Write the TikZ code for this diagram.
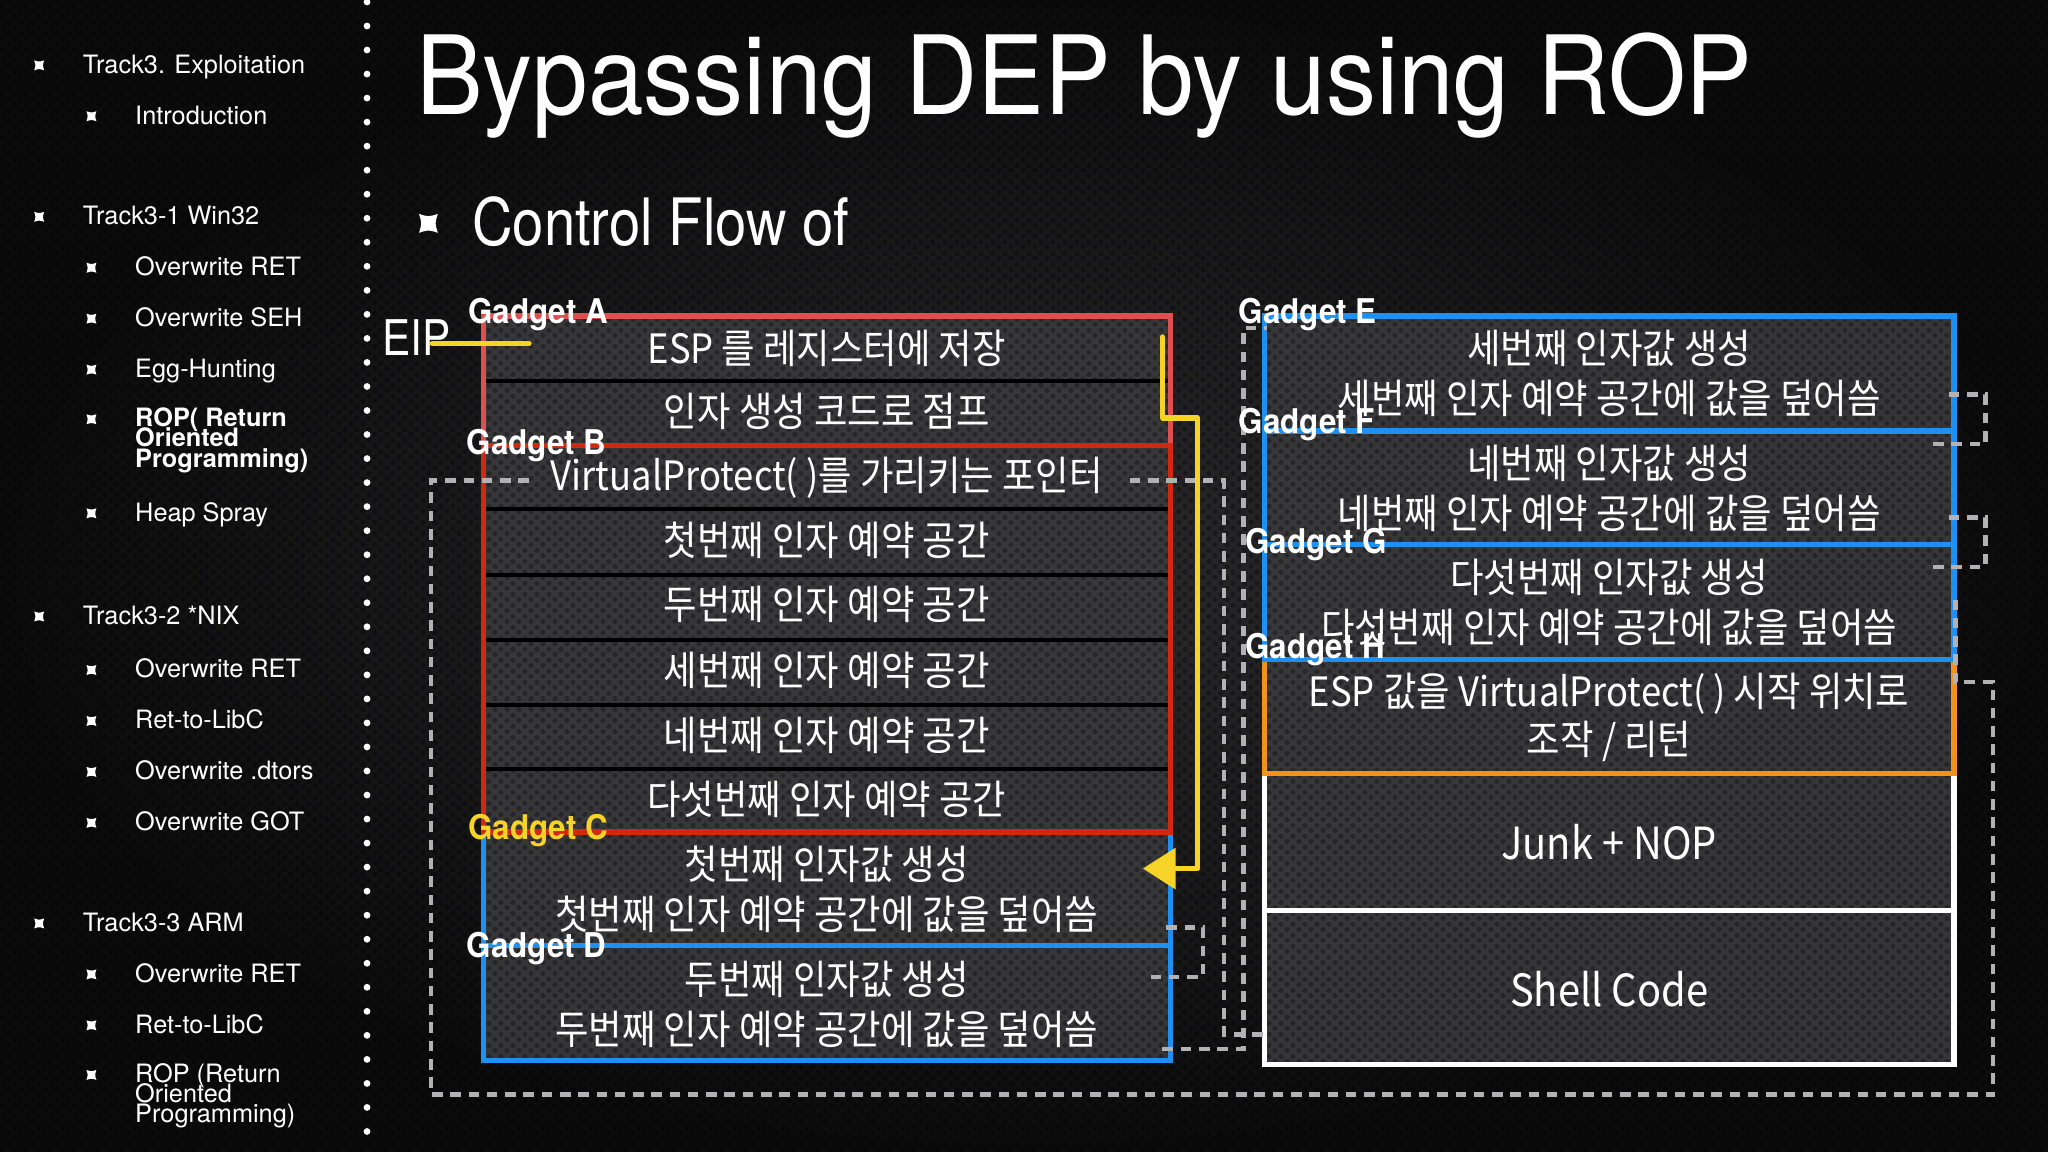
\documentclass[tikz,border=0pt]{standalone}
\usepackage{fontspec}
\setmainfont{TeX Gyre Heros}
\newfontfamily\hvside{TeX Gyre Heros}
\newfontfamily\hvtitle{TeX Gyre Heros}[FakeStretch=0.915]
\newfontfamily\hvcond{TeX Gyre Heros}[FakeStretch=0.86]
\newfontfamily\hvgad{TeX Gyre Heros}[FakeStretch=0.92]
\newfontfamily\krf{Noto Sans CJK KR}[FakeStretch=0.9]
\newcommand\tightls{\lineskiplimit=-20pt\relax\lineskip=0pt\relax}
\usetikzlibrary{arrows.meta,patterns}
\definecolor{redA}{HTML}{E04F4F}
\definecolor{redB}{HTML}{D2280F}
\definecolor{blueG}{HTML}{1E90F2}
\definecolor{orangeG}{HTML}{F2911B}
\definecolor{yel}{HTML}{F5D327}
\definecolor{dashgray}{HTML}{B2B2B4}
\definecolor{boxfill}{HTML}{3A3A3D}
\definecolor{bgin}{HTML}{2B2B2D}
\definecolor{bgout}{HTML}{0B0B0C}
\pgfdeclarepatternformonly{holes}{\pgfpoint{0pt}{0pt}}{\pgfpoint{3.4pt}{3pt}}{\pgfpoint{3.4pt}{3pt}}{%
  \pgfpathcircle{\pgfpoint{0.85pt}{0.75pt}}{0.75pt}%
  \pgfpathcircle{\pgfpoint{2.55pt}{2.25pt}}{0.75pt}%
  \pgfusepath{fill}}
\tikzset{
  side/.style={font=\hvside\fontsize{7.2pt}{8.6pt}\selectfont, text=white, inner sep=0pt, anchor=base west},
  sidebold/.style={font={\hvside\bfseries\fontsize{7.2pt}{5.8pt}\selectfont\tightls}, text=white, inner sep=0pt, anchor=west, align=left},
  sidemulti/.style={font={\hvside\fontsize{7.2pt}{5.8pt}\selectfont\tightls}, text=white, inner sep=0pt, anchor=west, align=left},
  cell/.style={font=\krf\fontsize{11.5pt}{13pt}\selectfont, text=white, inner sep=0pt},
  bigcell/.style={font=\krf\fontsize{12.6pt}{15pt}\selectfont, text=white, inner sep=0pt},
  gad/.style={font=\hvgad\bfseries\fontsize{9.7pt}{11pt}\selectfont, text=white, inner sep=0pt, anchor=base west},
  frame/.style={line width=1.5pt},
  divider/.style={line width=1.1pt, black},
  flow/.style={dashgray, line width=1.3pt, dash pattern=on 3pt off 2.2pt},
  chalk/.style={yel, line width=1.5pt, line join=round, line cap=round},
  kb/.pic={\fill[white] (-3.8,-3.8) .. controls (0,-2.6) .. (3.8,-3.8) .. controls (2.6,0) .. (3.8,3.8) .. controls (0,2.6) .. (-3.8,3.8) .. controls (-2.6,0) .. cycle;}
}
\begin{document}
\begin{tikzpicture}[x=0.0130612cm, y=-0.0130612cm]
\useasboundingbox (0,0) rectangle (1568,882);
% background
\shade[inner color=bgin, outer color=bgout] (0,0) rectangle (1568,882);
\fill[boxfill, fill opacity=0.92] (370,242) rectangle (896,812);
\fill[boxfill, fill opacity=0.92] (968,242) rectangle (1496,815);
\fill[pattern=holes, pattern color=black, fill opacity=0.3] (0,0) rectangle (1568,882);
% separator dots
\foreach \i in {0,...,47} \fill[white] (281,{1.5+\i*18.4}) circle [radius=2.6];

% sidebar
\foreach \p in {(30,50),(30,166),(30,472),(30,707)} \pic at \p {kb};
\foreach \p in {(70,89),(70,205),(70,244),(70,283),(70,321),(70,393),(70,513),(70,552),(70,591),(70,630),(70,746),(70,785),(70,823)} \pic at \p {kb};
\node[side] (s1) at (63,56) {Track3. Exploitation};
\node[side] (s2) at (103,95) {Introduction};
\node[side] (s3) at (63,172) {Track3-1 Win32};
\node[side] (s4) at (103,211) {Overwrite RET};
\node[side] (s5) at (103,250) {Overwrite SEH};
\node[side] (s6) at (103,289) {Egg-Hunting};
\node[sidebold] (s7) at (103,337) {ROP( Return\\Oriented\\Programming)};
\node[side] (s8) at (103,399) {Heap Spray};
\node[side] (s9) at (63,478) {Track3-2 *NIX};
\node[side] (s10) at (103,519) {Overwrite RET};
\node[side] (s11) at (103,558) {Ret-to-LibC};
\node[side] (s12) at (103,597) {Overwrite .dtors};
\node[side] (s13) at (103,636) {Overwrite GOT};
\node[side] (s14) at (63,713) {Track3-3 ARM};
\node[side] (s15) at (103,752) {Overwrite RET};
\node[side] (s16) at (103,791) {Ret-to-LibC};
\node[sidemulti] (s17) at (103,839) {ROP (Return\\Oriented\\Programming)};

% title
\node[anchor=base west, inner sep=0pt, text=white, font=\hvtitle\fontsize{31.1pt}{34pt}\selectfont] (title) at (318,88) {Bypassing DEP by using ROP};
\pic[scale=1.9] at (328,171) {kb};
\node[anchor=base west, inner sep=0pt, text=white, font=\hvcond\fontsize{18.6pt}{21pt}\selectfont] (ctrl) at (361,188) {Control Flow of};
\node[anchor=base west, inner sep=0pt, text=white, font=\hvcond\fontsize{14pt}{16pt}\selectfont] (eip) at (292,272) {EIP};

% left column frames
\foreach \yy in {292,390,440,490,540,589} \draw[divider] (371,\yy) -- (895,\yy);
\draw[frame, redA] (370,242) rectangle (896,341);
\draw[frame, blueG] (370,637) rectangle (896,724);
\draw[frame, blueG] (370,724) rectangle (896,812);
\draw[frame, redB] (370,341) rectangle (896,637);
% right column frames
\draw[frame, white] (968,697) rectangle (1496,815);
\draw[frame, white] (968,592) rectangle (1496,697);
\draw[frame, orangeG] (968,505) rectangle (1496,592);
\draw[frame, blueG] (968,242) rectangle (1496,330);
\draw[frame, blueG] (968,330) rectangle (1496,417);
\draw[frame, blueG] (968,417) rectangle (1496,505);

% connector end points
\coordinate (vpL) at (405,368);
\coordinate (vpR) at (865,368);
\coordinate (hR) at (1497,459);
\coordinate (shellL) at (968,792);
\coordinate (dR) at (890,803);
\coordinate (eL) at (970,251);
\coordinate (cR) at (893,710);
\coordinate (dR1) at (880,748);
\coordinate (eR) at (1492,302);
\coordinate (fR) at (1476,340);
\coordinate (fR2) at (1492,396);
\coordinate (gR) at (1476,434);
\coordinate (eipS) at (331,263);
\coordinate (eipE) at (405,263);
\coordinate (aTop) at (890,258);
\coordinate (cTip) at (875,665);

% dashed flow
\draw[flow] (hR) -- (1497,522) -- (1526,522) -- (1526,838) -- (330,838) -- (330,368) -- (vpL);
\draw[flow] (vpR) -- (937,368) -- (937,792) -- (shellL);
\draw[flow] (dR) -- (952,803) -- (952,251) -- (eL);
\draw[flow] (cR) -- (921,710) -- (921,748) -- (dR1);
\draw[flow] (eR) -- (1520,302) -- (1520,340) -- (fR);
\draw[flow] (fR2) -- (1520,396) -- (1520,434) -- (gR);

% yellow
\draw[chalk] (eipS) -- (eipE);
\draw[chalk, -{Triangle[length=9.3pt,width=11.5pt]}] (aTop) -- (890,320) -- (917,320) -- (917,665) -- (cTip);

% left texts
\node[cell] (a1) at (633,267) {ESP 를 레지스터에 저장};
\node[cell] (a2) at (633,315) {인자 생성 코드로 점프};
\node[cell] (b1) at (633,366) {VirtualProtect( )를 가리키는 포인터};
\node[cell] (b2) at (633,414) {첫번째 인자 예약 공간};
\node[cell] (b3) at (633,463) {두번째 인자 예약 공간};
\node[cell] (b4) at (633,513) {세번째 인자 예약 공간};
\node[cell] (b5) at (633,563) {네번째 인자 예약 공간};
\node[cell] (b6) at (633,612) {다섯번째 인자 예약 공간};
\node[cell] (c1) at (633,662) {첫번째 인자값 생성};
\node[cell] (c2) at (633,700) {첫번째 인자 예약 공간에 값을 덮어씀};
\node[cell] (d1) at (633,750) {두번째 인자값 생성};
\node[cell] (d2) at (633,788) {두번째 인자 예약 공간에 값을 덮어씀};
% right texts
\node[cell] (e1) at (1232,267) {세번째 인자값 생성};
\node[cell] (e2) at (1232,305) {세번째 인자 예약 공간에 값을 덮어씀};
\node[cell] (f1) at (1232,355) {네번째 인자값 생성};
\node[cell] (f2) at (1232,393) {네번째 인자 예약 공간에 값을 덮어씀};
\node[cell] (g1) at (1232,442) {다섯번째 인자값 생성};
\node[cell] (g2) at (1232,480) {다섯번째 인자 예약 공간에 값을 덮어씀};
\node[cell] (h1) at (1232,531) {ESP 값을 VirtualProtect( ) 시작 위치로};
\node[cell] (h2) at (1232,568) {조작 / 리턴};
\node[bigcell] (junk) at (1232,645) {Junk + NOP};
\node[bigcell] (shell) at (1232,757) {Shell Code};

% gadget labels
\node[gad] (gA) at (358,248) {Gadget A};
\node[gad] (gB) at (357,348) {Gadget B};
\node[gad, text=yel] (gC) at (358,643) {Gadget C};
\node[gad] (gD) at (357,733) {Gadget D};
\node[gad] (gE) at (948,248) {Gadget E};
\node[gad] (gF) at (948,332) {Gadget F};
\node[gad] (gG) at (953,424) {Gadget G};
\node[gad] (gH) at (953,504) {Gadget H};
\end{tikzpicture}
\end{document}
